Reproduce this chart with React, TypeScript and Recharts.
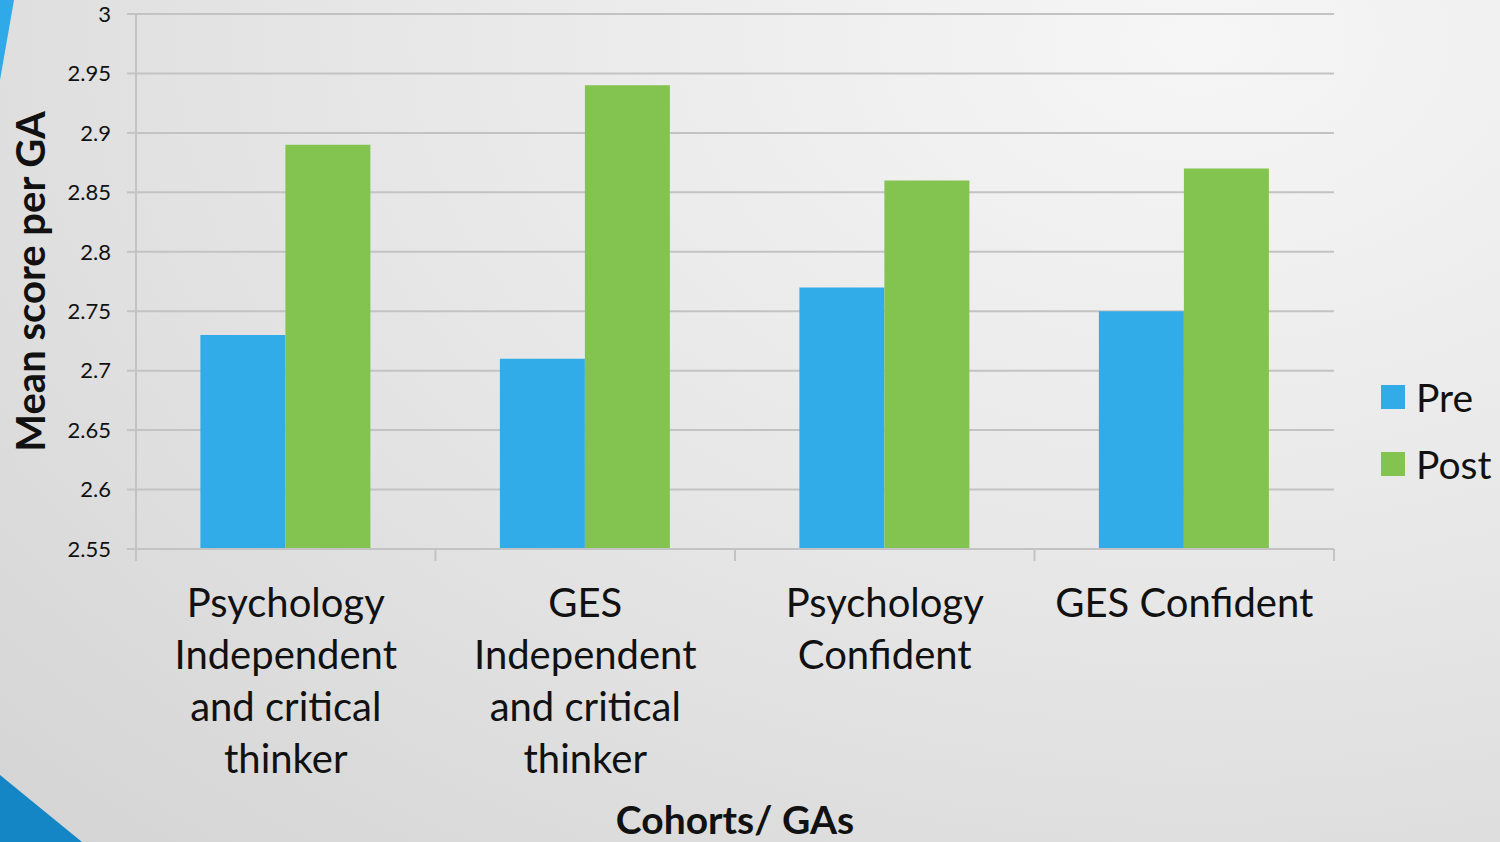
import React from "react";
import { BarChart, Bar, XAxis, YAxis, CartesianGrid, Legend } from "recharts";

const categories = [
	"Psychology Independent and critical thinker",
	"GES Independent and critical thinker",
	"Psychology Confident",
	"GES Confident",
];
const preScores = [2.73, 2.71, 2.77, 2.75];
const postScores = [2.89, 2.94, 2.86, 2.87];
const yTicks = [2.55, 2.6, 2.65, 2.7, 2.75, 2.8, 2.85, 2.9, 2.95, 3];

const data = categories.map((name, i) => ({ name, Pre: preScores[i], Post: postScores[i] }));

const W = 1500;
const H = 842;
const M = { top: 14, right: 166, left: 0, bottom: 0 };
const Y_AXIS_W = 136;
const X_AXIS_H = 293;
const PLOT_W = W - M.right - Y_AXIS_W;
const FONT = "Lato, 'Open Sans', sans-serif";
const CAT_SIZE = 40;
const AXIS_GRAY = "#c3c3c3";
const BLUE = "#32abe9";
const GREEN = "#83c451";

// greedy word wrap using canvas text metrics
let ctx: CanvasRenderingContext2D | null = null;
function wrap(text: string, maxW: number) {
	if (!ctx) ctx = document.createElement("canvas").getContext("2d");
	ctx!.font = `${CAT_SIZE}px Lato`;
	const lines: string[] = [];
	let cur = "";
	for (const w of text.split(" ")) {
		const next = cur ? cur + " " + w : w;
		if (cur && ctx!.measureText(next).width > maxW) {
			lines.push(cur);
			cur = w;
		} else cur = next;
	}
	if (cur) lines.push(cur);
	return lines;
}

function CategoryTick(props: any) {
	const { x, y, payload, index } = props;
	const band = PLOT_W / categories.length;
	const lines = wrap(payload.value, 290);
	return (
		<g>
			<line x1={x - band / 2} x2={x - band / 2} y1={y} y2={y + 12} stroke={AXIS_GRAY} strokeWidth={2} />
			{index === categories.length - 1 && (
				<line x1={x + band / 2} x2={x + band / 2} y1={y} y2={y + 12} stroke={AXIS_GRAY} strokeWidth={2} />
			)}
			<text textAnchor="middle" style={{ fontSize: CAT_SIZE, fontFamily: FONT, fill: "#111" }}>
				{lines.map((l, i) => (
					<tspan key={i} x={x} y={y + 68 + i * 52}>
						{l}
					</tspan>
				))}
			</text>
		</g>
	);
}

function LegendBox() {
	const items = [
		{ label: "Pre", color: BLUE },
		{ label: "Post", color: GREEN },
	];
	return (
		<div style={{ fontFamily: FONT }}>
			{items.map((it) => (
				<div key={it.label} style={{ display: "flex", alignItems: "center", height: 67 }}>
					<div style={{ width: 24, height: 24, background: it.color, marginRight: 11 }} />
					<span style={{ fontSize: 39, color: "#111" }}>{it.label}</span>
				</div>
			))}
		</div>
	);
}

export default function App() {
	return (
		<div
			style={{
				position: "absolute",
				left: 0,
				top: 0,
				width: W,
				height: H,
				overflow: "hidden",
				background: "radial-gradient(ellipse at 80% 5%, #f6f6f6 0%, #e8e8e8 45%, #d4d4d4 100%)",
			}}
		>
			<svg width={W} height={H} style={{ position: "absolute", left: 0, top: 0 }}>
				<polygon points="0,0 14,0 0,80" fill="#2fa9e8" />
				<polygon points="0,775 82,842 0,842" fill="#1586c5" />
			</svg>
			<div style={{ position: "absolute", left: 0, top: 0 }}>
				<BarChart width={W} height={H} data={data} margin={M} barCategoryGap="21.5%" barGap={0}>
					<CartesianGrid vertical={false} stroke={AXIS_GRAY} strokeWidth={2} />
					<XAxis
						dataKey="name"
						height={X_AXIS_H}
						interval={0}
						stroke={AXIS_GRAY}
						strokeWidth={2}
						tickLine={false}
						tickSize={0}
						tickMargin={0}
						tick={<CategoryTick />}
						label={{
							value: "Cohorts/ GAs",
							position: "insideBottom",
							offset: 8,
							style: { fontSize: 39, fontWeight: 700, fontFamily: FONT, fill: "#111" },
						}}
					/>
					<YAxis
						width={Y_AXIS_W}
						domain={[2.55, 3]}
						ticks={yTicks}
						interval={0}
						allowDataOverflow
						stroke={AXIS_GRAY}
						strokeWidth={2}
						tickSize={9}
						tickMargin={16}
						tick={{ fontSize: 22, fontFamily: FONT, fill: "#111" }}
						tickFormatter={(v: number) => String(Number(v.toFixed(2)))}
						label={{
							value: "Mean score per GA",
							angle: -90,
							position: "insideLeft",
							offset: 31,
							style: { textAnchor: "middle", fontSize: 40, fontWeight: 700, fontFamily: FONT, fill: "#111" },
						}}
					/>
					<Legend
						layout="vertical"
						align="center"
						verticalAlign="middle"
						wrapperStyle={{ left: 1381, top: 363, width: 119 }}
						content={<LegendBox />}
					/>
					<Bar dataKey="Pre" fill={BLUE} isAnimationActive={false} />
					<Bar dataKey="Post" fill={GREEN} isAnimationActive={false} />
				</BarChart>
			</div>
		</div>
	);
}
